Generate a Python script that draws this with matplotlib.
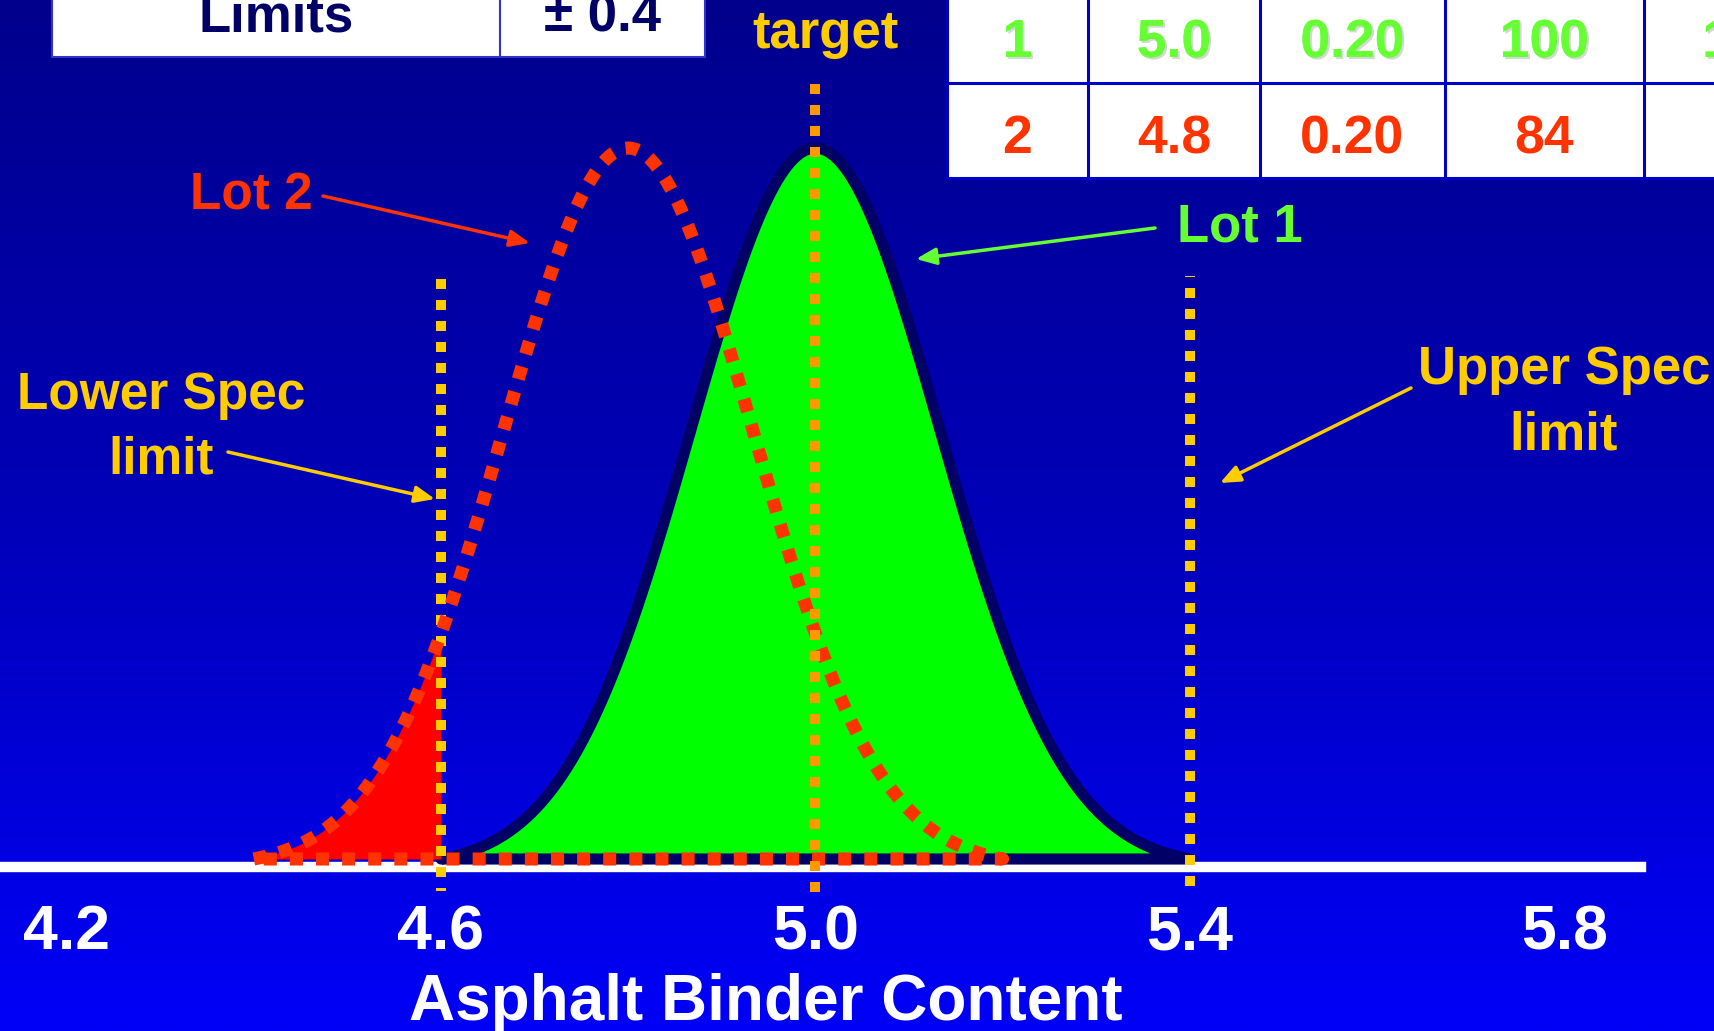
import matplotlib
matplotlib.use("Agg")
import matplotlib.pyplot as plt
import matplotlib.patheffects as pe
import numpy as np
from matplotlib.colors import LinearSegmentedColormap
from matplotlib.patches import Rectangle

plt.rcParams['font.family'] = ['Liberation Sans', 'DejaVu Sans']
plt.rcParams['font.weight'] = 'bold'

W, H = 1715, 1031

# spec band
TARGET = 5.0
LIMIT = 0.4
LOWER_SPEC = TARGET - LIMIT
UPPER_SPEC = TARGET + LIMIT

# lot statistics (table rows)
LOTS = ["1", "2"]
LOT_MEANS = [5.0, 4.8]
LOT_SDS = [0.20, 0.20]
LOT_PWL = [100, 84]
LOT_EXTRA = ["100", ""]

X_TICKS = [4.2, 4.6, 5.0, 5.4, 5.8]
X_TICK_LABELS = ["4.2", "4.6", "5.0", "5.4", "5.8"]
X_LABEL = "Asphalt Binder Content"

GREEN = '#66FF33'
RED = '#FF3300'
GOLD = '#FFCC00'
NAVY = '#000066'


def bell(mean, sd, n=201):
    """Bell curve over mean +/- 2 sd, scaled to peak 1 and dropping to 0 at the ends."""
    x = np.linspace(mean - 2 * sd, mean + 2 * sd, n)
    s = 2 * sd / 3
    g = np.exp(-0.5 * ((x - mean) / s) ** 2)
    g0 = np.exp(-4.5)
    return x, (g - g0) / (1 - g0)


def px_to_x(px):
    # 4.6 sits at 441 px, 936 px per unit
    return 4.6 + (px - 441) / 936


def px_to_y(py):
    # curve base at 859 px, peak at 148 px
    return (859 - py) / 711


fig = plt.figure(figsize=(W / 100, H / 100), dpi=100)

# gradient backdrop
bg = fig.add_axes([0, 0, 1, 1], zorder=0, label="bg")
cmap = LinearSegmentedColormap.from_list("slide", ['#00008C', '#0000B8', '#0000F8'])
grad = np.linspace(0, 1, 512).reshape(-1, 1)
bg.imshow(grad, cmap=cmap, aspect='auto', extent=(0, W, H, 0))
bg.set_xlim(0, W)
bg.set_ylim(H, 0)
bg.axis('off')

# main plot, bottom spine is the white base line
ax = fig.add_axes([3 / W, 1 - 867 / H, (1641 - 3) / W, 867 / H], zorder=1, label="main")
ax.set_facecolor('none')
ax.set_xlim(px_to_x(3), px_to_x(1641))
ax.set_ylim(px_to_y(867), px_to_y(0))
for side in ['top', 'left', 'right']:
    ax.spines[side].set_visible(False)
ax.spines['bottom'].set_color('white')
ax.spines['bottom'].set_linewidth(7.5)
ax.set_yticks([])
ax.set_xticks(X_TICKS, X_TICK_LABELS)
ax.tick_params(axis='x', length=0, pad=26, labelsize=45, labelcolor='white')

# lot 1: solid green bell
x1, y1 = bell(LOT_MEANS[0], LOT_SDS[0])
ax.fill(x1, y1, facecolor='#00FF00', edgecolor=NAVY, lw=8, joinstyle='round', zorder=3)

# lot 2: red tail below spec + dotted outline
x2, y2 = bell(LOT_MEANS[1], LOT_SDS[1])
tail = x2 <= LOWER_SPEC + 1e-9
ax.fill_between(x2[tail], 0, y2[tail], color='#FF0000', lw=0, zorder=3.2)

# spec and target lines
spec_style = dict(lw=7.2, ls=(0, (1, 1.1)), dash_capstyle='butt', clip_on=False)
ax.plot([LOWER_SPEC, LOWER_SPEC], [px_to_y(279), px_to_y(891)], color=GOLD,
        zorder=3.5, **spec_style)
ax.plot([UPPER_SPEC, UPPER_SPEC], [px_to_y(886), px_to_y(276)], color=GOLD,
        zorder=3.5, **spec_style)

ax.plot(np.r_[x2, x2[0]], np.r_[y2, 0], color=RED, lw=9.4, ls=(0, (1, 1)),
        dash_capstyle='butt', clip_on=False, zorder=4)

ax.plot([TARGET, TARGET], [px_to_y(84), px_to_y(897)], color='#FF9900',
        zorder=5, **spec_style)

# overlay in pixel units for tables, labels and arrows
ov = fig.add_axes([0, 0, 1, 1], zorder=3, label="overlay")
ov.set_xlim(0, W)
ov.set_ylim(H, 0)
ov.axis('off')
ov.patch.set_alpha(0)

# limits box, top left
ov.add_patch(Rectangle((52, -60), 653, 117, facecolor='white', edgecolor='#3333CC', lw=1.5))
ov.plot([500, 500], [-60, 57], color='#3333CC', lw=1.5)
ov.text(276, 32, "Limits", ha='center', va='baseline', fontsize=38, color=NAVY)
ov.text(603, 32, "\u00b1 0.4", ha='center', va='baseline', fontsize=38, color=NAVY)

# lot table, top right
cols = [947, 1088, 1260, 1445, 1644, 1850]
rows = [-12, 83, 178]
ov.add_patch(Rectangle((cols[0], rows[0]), cols[-1] - cols[0], rows[-1] - rows[0],
                       facecolor='white', edgecolor='none'))
for c in cols:
    ov.plot([c, c], [rows[0], rows[-1]], color='#0000CC', lw=2.2, solid_capstyle='butt')
for r in rows:
    ov.plot([cols[0], cols[-1]], [r, r], color='#0000CC', lw=2.2, solid_capstyle='butt')

shadow = [pe.withSimplePatchShadow(offset=(1.5, -1.5), shadow_rgbFace='#999999', alpha=0.4),
          pe.Normal()]
baselines = [57, 153]
for i in range(len(LOTS)):
    cells = [LOTS[i], f"{LOT_MEANS[i]:.1f}", f"{LOT_SDS[i]:.2f}", str(LOT_PWL[i]), LOT_EXTRA[i]]
    color = GREEN if i == 0 else RED
    for j, val in enumerate(cells):
        cx = (cols[j] + cols[j + 1]) / 2
        ov.text(cx, baselines[i], val, ha='center', va='baseline', fontsize=38.5,
                color=color, path_effects=shadow if i == 0 else None)


# labels and arrows
def arrow(tail_xy, tip_xy, color):
    ov.annotate('', xy=tip_xy, xytext=tail_xy,
                arrowprops=dict(arrowstyle='-|>,head_length=1.0,head_width=0.42',
                                color=color, lw=2.5, mutation_scale=12,
                                shrinkA=0, shrinkB=0))


ov.text(826, 48, "target", ha='center', va='baseline', fontsize=38, color=GOLD)

ov.text(251, 209, "Lot 2", ha='center', va='baseline', fontsize=37, color=RED)
arrow((323, 196), (530, 243), RED)

ov.text(1240, 242, "Lot 1", ha='center', va='baseline', fontsize=38, color=GREEN)
arrow((1155, 228), (916, 259), GREEN)

ov.text(161, 473, "Lower Spec\nlimit", ha='center', va='baseline', multialignment='center',
        fontsize=37, color=GOLD, linespacing=1.4)
arrow((228, 452), (435, 499), GOLD)

ov.text(1564, 450, "Upper Spec\nlimit", ha='center', va='baseline', multialignment='center',
        fontsize=38, color=GOLD, linespacing=1.4)
arrow((1411, 388), (1220, 483), GOLD)

ov.text(766, 1020, X_LABEL, ha='center', va='baseline', fontsize=46, color='white')

fig.savefig("out.png", dpi=100)
